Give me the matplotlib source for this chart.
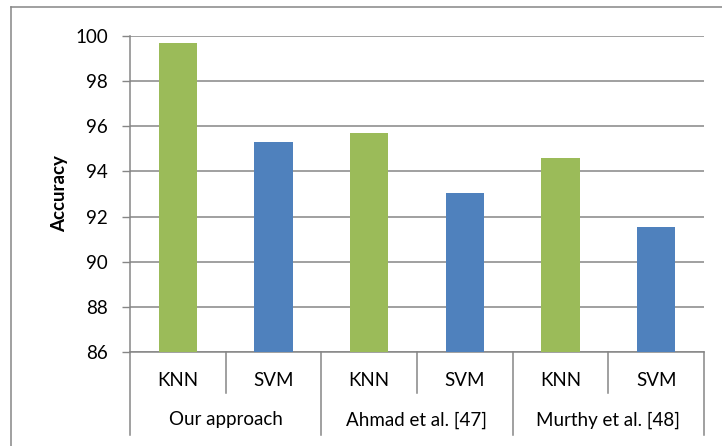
import numpy as np
import matplotlib
matplotlib.use('Agg')
import matplotlib.pyplot as plt
import matplotlib.transforms as mtransforms
from matplotlib.lines import Line2D

plt.rcParams['font.family'] = ['Lato', 'DejaVu Sans']

groups = ['Our approach', 'Ahmad et al. [47]', 'Murthy et al. [48]']
methods = ['KNN', 'SVM']
knn_acc = [99.7, 95.7, 94.6]
svm_acc = [95.3, 93.05, 91.55]
y_ticks = [86, 88, 90, 92, 94, 96, 98, 100]

green = '#9BBB59'
blue = '#4F81BD'
grid_col = '#868686'

fig = plt.figure(figsize=(7.22, 4.46), dpi=100)
ax = fig.add_axes([130 / 722, 1 - 352 / 446, 574 / 722, 316 / 446])

# interleave KNN / SVM per group
values = []
colors = []
labels = []
for k, s in zip(knn_acc, svm_acc):
    values += [k, s]
    colors += [green, blue]
    labels += methods
x = np.arange(len(values))

ax.bar(x, np.array(values) - y_ticks[0], bottom=y_ticks[0], width=0.4,
       color=colors, zorder=3)

ax.set_xlim(-0.5, len(values) - 0.5)
ax.set_ylim(y_ticks[0], y_ticks[-1])
ax.set_yticks(y_ticks)
ax.set_yticklabels([str(t) for t in y_ticks], fontsize=13.5)
ax.tick_params(axis='y', length=6, width=1, color=grid_col, pad=10)
ax.tick_params(axis='x', length=0, labelbottom=False)
ax.grid(True, axis='y', color=grid_col, linewidth=1.1, zorder=0)
ax.set_axisbelow(True)

for side in ['top', 'right']:
    ax.spines[side].set_visible(False)
ax.spines['left'].set_color(grid_col)
ax.spines['left'].set_linewidth(1.1)
ax.spines['bottom'].set_color(grid_col)
ax.spines['bottom'].set_linewidth(1.1)

ax.set_ylabel('Accuracy', fontsize=13.5, fontweight='bold', labelpad=5)

# two-level category axis
trans = mtransforms.blended_transform_factory(ax.transData, ax.transAxes)
for i, lab in enumerate(labels):
    ax.text(i, -0.089, lab, transform=trans, ha='center', va='center',
            fontsize=13.5)
for g, name in enumerate(groups):
    ax.text(2 * g + 0.5, -0.215, name, transform=trans, ha='center',
            va='center', fontsize=13.5)

for i in range(len(values) + 1):
    xpos = i - 0.5
    y_end = -0.263 if i % 2 == 0 else -0.13
    ax.add_line(Line2D([xpos, xpos], [0, y_end], transform=trans,
                       color=grid_col, linewidth=1.1, clip_on=False))

# chart frame
fig.add_artist(Line2D([11 / 722, 11 / 722], [0, 1 - 7 / 446],
                      transform=fig.transFigure, color=grid_col, linewidth=1.1))
fig.add_artist(Line2D([11 / 722, 1], [1 - 7 / 446, 1 - 7 / 446],
                      transform=fig.transFigure, color=grid_col, linewidth=1.1))

fig.savefig('out.png', dpi=100)
